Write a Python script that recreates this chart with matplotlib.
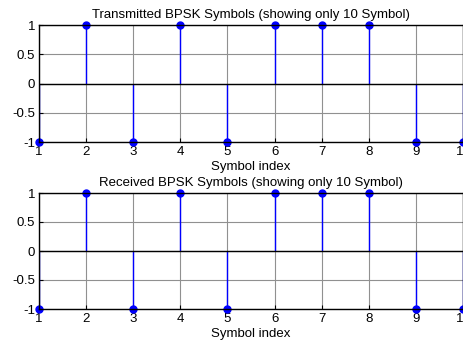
import numpy as np
import matplotlib
matplotlib.use("Agg")
import matplotlib.pyplot as plt

#%% Data
symbolIndex = [1, 2, 3, 4, 5, 6, 7, 8, 9, 10]
txSymbols = [-1, 1, -1, 1, -1, 1, 1, 1, -1, -1]
rxSymbols = [-1, 1, -1, 1, -1, 1, 1, 1, -1, -1]
yTicks = [-1, -0.5, 0, 0.5, 1]
yTickLabels = ["-1", "-0.5", "0", "0.5", "1"]

plt.rcParams['font.family'] = ['Liberation Sans', 'DejaVu Sans']
fs = 9.5

fig = plt.figure(figsize=(4.64, 3.41), dpi=100)
W, H = 464.0, 341.0

def stem_panel(rect, values, title):
    ax = fig.add_axes(rect)
    ml, sl, bl = ax.stem(symbolIndex, values, basefmt='k-')
    plt.setp(sl, color='blue', linewidth=1.0)
    plt.setp(ml, color='blue', markersize=5)
    plt.setp(bl, linewidth=1.0)
    ml.set_clip_on(False)
    ax.set_xlim(1, 10)
    ax.set_ylim(-1, 1)
    ax.set_xticks(symbolIndex)
    ax.set_yticks(yTicks)
    ax.set_yticklabels(yTickLabels)
    ax.grid(True, color='#909090', linewidth=0.8, linestyle='-')
    ax.set_axisbelow(True)
    ax.tick_params(direction='in', length=3, width=0.8, labelsize=fs)
    ax.tick_params(axis='x', pad=3)
    ax.tick_params(axis='y', pad=2.5)
    for s in ax.spines.values():
        s.set_linewidth(1.0)
    ax.set_title(title, fontsize=fs, pad=5)
    ax.set_xlabel("Symbol index", fontsize=fs, labelpad=2)
    return ax

stem_panel([38.5/W, 1-142/H, 425/W, 117/H], txSymbols,
           "Transmitted BPSK Symbols (showing only 10 Symbol)")
stem_panel([38.5/W, 1-309/H, 425/W, 116/H], rxSymbols,
           "Received BPSK Symbols (showing only 10 Symbol)")

fig.savefig("out.png", dpi=100)
